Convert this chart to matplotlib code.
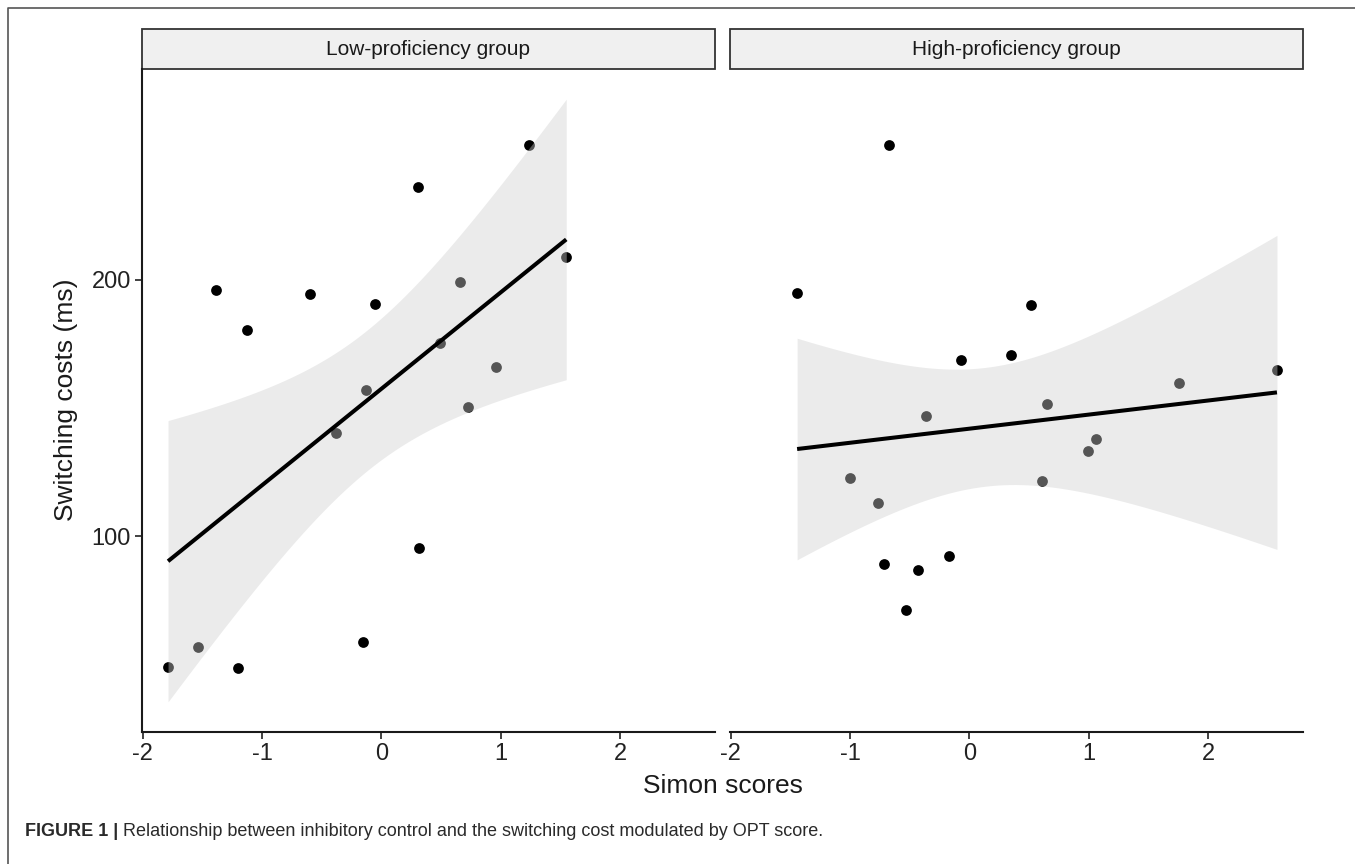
import numpy as np
import matplotlib
matplotlib.use('Agg')
import matplotlib.pyplot as plt
from matplotlib.patches import Rectangle
from matplotlib.lines import Line2D

plt.rcParams['font.family'] = ['Liberation Sans', 'DejaVu Sans']

# values
groups = ['Low-proficiency group', 'High-proficiency group']

low_simon = [1.233, 0.307, 1.548, 0.661, -1.387, -0.597, -0.053, -1.127, 0.494,
             0.957, -0.128, 0.728, -0.379, 0.315, -0.151, -1.537, -1.788, -1.205]
low_cost = [252.5, 236.1, 208.7, 199.1, 196.1, 194.5, 190.5, 180.5, 175.5,
            166.0, 157.1, 150.5, 140.1, 95.4, 58.6, 56.6, 49.0, 48.4]

high_simon = [-0.678, -1.444, 0.519, -0.068, 0.352, 2.576, 1.757, 0.650, -0.368,
              1.058, 0.991, -1.000, -0.764, 0.605, -0.713, -0.429, -0.174, -0.531]
high_cost = [252.6, 194.9, 190.1, 168.5, 170.7, 164.8, 159.8, 151.7, 146.9,
             138.0, 133.1, 122.7, 112.9, 121.4, 89.2, 86.6, 92.1, 71.0]

x_ticks = [-2, -1, 0, 1, 2]
y_ticks = [100, 200]

T_CRIT = 2.1199  # t quantile 0.975, df = 16


def fit_band(x, y, n_grid=80):
    x = np.asarray(x, float)
    y = np.asarray(y, float)
    b, a = np.polyfit(x, y, 1)
    xs = np.linspace(x.min(), x.max(), n_grid)
    fit = a + b * xs
    n = len(x)
    s = np.sqrt(np.sum((y - (a + b * x)) ** 2) / (n - 2))
    se = s * np.sqrt(1 / n + (xs - x.mean()) ** 2 / np.sum((x - x.mean()) ** 2))
    return xs, fit, fit - T_CRIT * se, fit + T_CRIT * se


W, H = 1355, 864
fig = plt.figure(figsize=(W / 100, H / 100), dpi=100)

data = [(low_simon, low_cost), (high_simon, high_cost)]
bands = [fit_band(x, y) for x, y in data]

# shared scales with ggplot-like 5% expansion
all_x = np.concatenate([np.asarray(d[0]) for d in data])
xr = all_x.max() - all_x.min()
xlim = (all_x.min() - 0.05 * xr, all_x.max() + 0.05 * xr)
all_y = np.concatenate([np.asarray(d[1]) for d in data] +
                       [b[2] for b in bands] + [b[3] for b in bands])
yr = all_y.max() - all_y.min()
ylim = (all_y.min() - 0.05 * yr, all_y.max() + 0.05 * yr)

panel_px = [(142, 715), (730, 1303)]
top_px, bot_px = 69, 732
strip_h = 40

for i, ((x, y), (xs, fit, lo, hi)) in enumerate(zip(data, bands)):
    x0, x1 = panel_px[i]
    ax = fig.add_axes([x0 / W, 1 - bot_px / H, (x1 - x0) / W, (bot_px - top_px) / H])
    ax.scatter(x, y, s=60, color='black', zorder=2, linewidths=0)
    ax.fill_between(xs, lo, hi, color='#cfcfcf', alpha=0.41, linewidth=0, zorder=3)
    ax.plot(xs, fit, color='black', lw=2.9, zorder=4, solid_capstyle='butt')
    ax.set_xlim(xlim)
    ax.set_ylim(ylim)
    ax.set_xticks(x_ticks)
    ax.set_xticklabels([str(t) for t in x_ticks])
    ax.set_yticks(y_ticks)
    for sp in ['top', 'right']:
        ax.spines[sp].set_visible(False)
    ax.spines['bottom'].set_linewidth(1.5)
    ax.spines['left'].set_linewidth(1.5)
    ax.spines['bottom'].set_color('#1a1a1a')
    ax.spines['left'].set_color('#1a1a1a')
    ax.tick_params(axis='both', length=5, width=1.3, color='#333333',
                   labelsize=17, labelcolor='#222222', pad=3)
    if i == 1:
        ax.spines['left'].set_visible(False)
        ax.tick_params(axis='y', left=False, labelleft=False)
    # facet strip
    ax.add_patch(Rectangle((0, 1), 1, strip_h / (bot_px - top_px), transform=ax.transAxes,
                           facecolor='#f0f0f0', edgecolor='#333333', lw=1.3, clip_on=False))
    ax.text(0.5, 1 + strip_h / 2 / (bot_px - top_px), groups[i], transform=ax.transAxes,
            ha='center', va='center', fontsize=15, color='#1a1a1a')

fig.text((142 + 1303) / 2 / W, 1 - 786 / H, 'Simon scores', ha='center', va='center',
         fontsize=19, color='#1a1a1a')
fig.text(66 / W, 1 - 400 / H, 'Switching costs (ms)', ha='center', va='center',
         rotation=90, fontsize=19, color='#1a1a1a')

# caption
cap1 = fig.text(25 / W, 1 - 832 / H, 'FIGURE 1 |', ha='left', va='center',
                fontsize=13, fontweight='bold', color='#2a2a2a')
fig.canvas.draw()
bb = cap1.get_window_extent()
fig.text((bb.x1 + 5) / W, 1 - 832 / H,
         'Relationship between inhibitory control and the switching cost modulated by OPT score.',
         ha='left', va='center', fontsize=13, color='#2a2a2a')

# outer frame on top and left
fig.add_artist(Line2D([8 / W, 8 / W, 1], [0, 1 - 8 / H, 1 - 8 / H],
                      transform=fig.transFigure, color='#555555', lw=1.2))

fig.savefig('out.png', dpi=100)
